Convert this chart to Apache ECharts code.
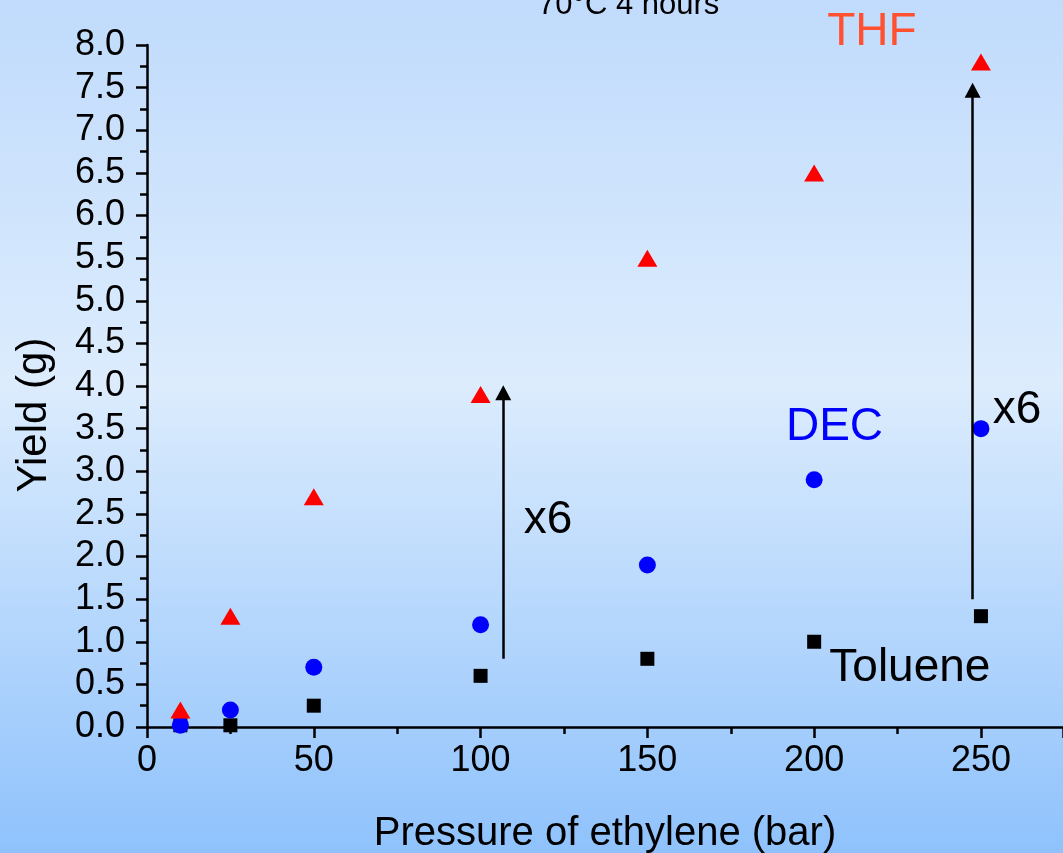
<!DOCTYPE html>
<html>
<head>
<meta charset="utf-8">
<script src="https://cdn.jsdelivr.net/npm/echarts@6/dist/echarts.min.js"></script>
<style>html,body{margin:0;padding:0;}#c{width:1063px;height:853px;}</style>
</head>
<body>
<div id="c"></div>
<script>
// ---- data ----
const pressures = [10, 25, 50, 100, 150, 200, 250];
const toluene = [0.02, 0.02, 0.25, 0.6, 0.8, 1.0, 1.3];
const dec = [0.02, 0.2, 0.7, 1.2, 1.9, 2.9, 3.5];
const thf = [0.2, 1.3, 2.7, 3.9, 5.5, 6.5, 7.8];
const arrows = [
  { x: 106.8, from: 0.8, to: 3.92 },
  { x: 247.5, from: 1.5, to: 7.47 }
];
const annotations = [
  { text: 'THF', x: 217.3, y: 8.15, color: '#ff5030' },
  { text: 'DEC', x: 206.1, y: 3.51, color: '#0000ff' },
  { text: 'Toluene', x: 228.7, y: 0.69, color: '#000000' },
  { text: 'x6', x: 120.2, y: 2.43, color: '#000000' },
  { text: 'x6', x: 260.8, y: 3.72, color: '#000000' }
];
const titleText = '70°C 4 hours';
const xName = 'Pressure of ethylene (bar)';
const yName = 'Yield (g)';

const FONT = '"Liberation Sans", Arial, sans-serif';
const pairs = arr => pressures.map((p, i) => [p, arr[i]]);

const chart = echarts.init(document.getElementById('c'), null, { renderer: 'canvas' });
chart.setOption({
  animation: false,
  backgroundColor: {
    type: 'linear', x: 0, y: 0, x2: 0, y2: 1,
    colorStops: [
      { offset: 0, color: '#c0dbfc' },
      { offset: 0.45, color: '#dcecfd' },
      { offset: 1, color: '#8fc2fc' }
    ]
  },
  title: {
    text: titleText, left: 533, top: -15,
    textStyle: { fontFamily: FONT, fontSize: 31, fontWeight: 'normal', color: '#000' }
  },
  grid: { left: 147, right: 0, top: 45, bottom: 126, containLabel: false, outerBoundsMode: 'none' },
  xAxis: {
    type: 'value', min: 0, max: 274.6, interval: 50,
    name: xName, nameLocation: 'middle', nameGap: 87,
    nameTextStyle: { fontFamily: FONT, fontSize: 40, color: '#000' },
    axisLine: { show: true, onZero: false, lineStyle: { color: '#000', width: 2.5 } },
    axisTick: { show: true, inside: false, length: 11, lineStyle: { color: '#000', width: 2.5 } },
    minorTick: { show: true, splitNumber: 2, length: 7, lineStyle: { color: '#000', width: 2.5 } },
    axisLabel: { fontFamily: FONT, fontSize: 36, color: '#000', margin: 16,
      showMaxLabel: false,
      formatter: v => (v % 50 === 0 && v <= 250) ? String(v) : '' },
    splitLine: { show: false }
  },
  yAxis: {
    type: 'value', min: 0, max: 8, interval: 0.5,
    name: yName, nameLocation: 'middle', nameGap: 92,
    nameTextStyle: { fontFamily: FONT, fontSize: 42, color: '#000', padding: [0, 58, 0, 0] },
    axisLine: { show: true, lineStyle: { color: '#000', width: 2.5 } },
    axisTick: { show: true, inside: false, length: 11, lineStyle: { color: '#000', width: 2.5 } },
    minorTick: { show: true, splitNumber: 2, length: 7, lineStyle: { color: '#000', width: 2.5 } },
    axisLabel: { fontFamily: FONT, fontSize: 36, color: '#000', margin: 22,
      formatter: v => v.toFixed(1) },
    splitLine: { show: false }
  },
  series: [
    {
      name: 'Toluene', type: 'scatter', data: pairs(toluene),
      symbol: 'rect', symbolSize: 14, itemStyle: { color: '#000', opacity: 1 }, z: 3
    },
    {
      name: 'DEC', type: 'scatter', data: pairs(dec),
      symbol: 'circle', symbolSize: 17, itemStyle: { color: '#0000ff', opacity: 1 }, z: 4
    },
    {
      name: 'THF', type: 'scatter', data: pairs(thf),
      symbol: 'triangle', symbolSize: [20, 17], itemStyle: { color: '#ff0000', opacity: 1 }, z: 5
    },
    {
      name: 'arrows', type: 'scatter', data: [],
      markLine: {
        silent: true, animation: false,
        symbol: ['none', 'triangle'], symbolSize: [16, 15],
        lineStyle: { color: '#000', width: 2.5, type: 'solid', opacity: 1 },
        label: { show: false },
        data: arrows.map(a => [{ coord: [a.x, a.from] }, { coord: [a.x, a.to] }])
      }
    },
    {
      name: 'labels', type: 'scatter', clip: false, symbolSize: 0, silent: true, z: 6,
      itemStyle: { opacity: 1 },
      data: annotations.map(a => ({
        value: [a.x, a.y],
        label: { show: true, position: 'inside', formatter: a.text,
          fontFamily: FONT, fontSize: 46, color: a.color, opacity: 1 }
      }))
    }
  ]
});
</script>
</body>
</html>
